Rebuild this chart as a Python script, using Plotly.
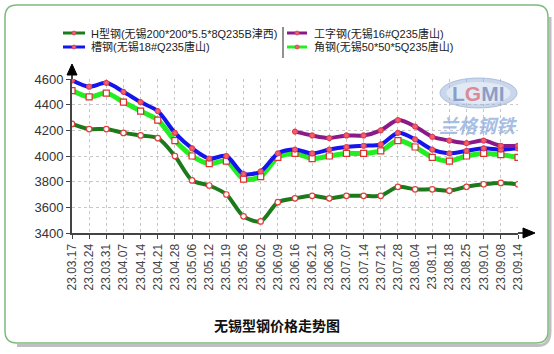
import plotly.graph_objects as go

dates = ["23.03.17","23.03.24","23.03.31","23.04.07","23.04.14","23.04.21","23.04.28",
         "23.05.06","23.05.12","23.05.19","23.05.26","23.06.02","23.06.09","23.06.16",
         "23.06.21","23.06.30","23.07.07","23.07.14","23.07.21","23.07.28","23.08.04",
         "23.08.11","23.08.18","23.08.25","23.09.01","23.09.08","23.09.14"]

h_steel = [4250,4210,4210,4180,4160,4140,4000,3810,3770,3700,3530,3490,3640,3670,
           3690,3670,3690,3690,3690,3760,3740,3740,3730,3760,3780,3790,3780]
channel = [4590,4540,4570,4500,4420,4350,4180,4060,3980,4000,3860,3880,4020,4050,
           4020,4050,4070,4080,4090,4180,4130,4050,4020,4040,4060,4050,4060]
angle = [4510,4460,4490,4420,4350,4280,4120,4000,3940,3960,3820,3840,3990,4020,
         3980,4000,4020,4020,4040,4120,4070,3990,3960,4000,4020,4010,3990]
ibeam = [None]*13 + [4190,4160,4140,4160,4160,4200,4280,4230,4150,4120,4100,4120,4080,4080]

names = ["H型钢(无锡200*200*5.5*8Q235B津西)", "工字钢(无锡16#Q235唐山)",
         "槽钢(无锡18#Q235唐山)", "角钢(无锡50*50*5Q235唐山)"]
title = "无锡型钢价格走势图"
yticks = [3400, 3600, 3800, 4000, 4200, 4400, 4600]

FONT = "Liberation Sans, Arial, Noto Sans CJK SC, sans-serif"
W, H = 554, 354
L, R, T, B = 72, 518, 79, 233

def PX(px):
    return (px - L) / (R - L)

def PY(py):
    return (B - py) / (B - T)

def P(px, py):
    return f"{PX(px)},{PY(py)}"

def ellipse_path(cx, cy, rx, ry):
    k = 0.5523
    return (f"M {P(cx+rx,cy)} "
            f"C {P(cx+rx,cy+k*ry)} {P(cx+k*rx,cy+ry)} {P(cx,cy+ry)} "
            f"C {P(cx-k*rx,cy+ry)} {P(cx-rx,cy+k*ry)} {P(cx-rx,cy)} "
            f"C {P(cx-rx,cy-k*ry)} {P(cx-k*rx,cy-ry)} {P(cx,cy-ry)} "
            f"C {P(cx+k*rx,cy-ry)} {P(cx+rx,cy-k*ry)} {P(cx+rx,cy)} Z")

fig = go.Figure()

def add(y, color, width, msym, msize, mfill, mline):
    fig.add_trace(go.Scatter(
        x=dates, y=y, mode="lines+markers",
        line=dict(color=color, width=width, shape="spline", smoothing=0.8),
        marker=dict(symbol=msym, size=msize, color=mfill, line=dict(color=mline, width=1.2)),
        showlegend=False, connectgaps=False))

add(h_steel, "#1c7a1c", 4, "circle", 5.5, "white", "#e04040")
add(angle, "#22ee22", 5, "square", 6, "white", "#e03030")
add(channel, "#1414ee", 4, "circle", 5, "#f06070", "#e04050")
add(ibeam, "#8a1a8a", 4, "circle", 5, "#f06070", "#e04050")

shapes = []
annotations = []

# outer rounded frame
x0, y0, x1, y1, r = 5, 5, 548, 343, 12
frame = (f"M {P(x0+r,y0)} L {P(x1-r,y0)} Q {P(x1,y0)} {P(x1,y0+r)} "
         f"L {P(x1,y1-r)} Q {P(x1,y1)} {P(x1-r,y1)} L {P(x0+r,y1)} "
         f"Q {P(x0,y1)} {P(x0,y1-r)} L {P(x0,y0+r)} Q {P(x0,y0)} {P(x0+r,y0)} Z")
shadow = (f"M {P(x0+r,y1+2.5)} L {P(x1-r+2,y1+2.5)} Q {P(x1+2,y1+2.5)} {P(x1+2,y1-r)} "
          f"L {P(x1+2,y0+r)}")
shapes.append(dict(type="path", xref="paper", yref="paper", path=shadow,
                   line=dict(color="rgba(150,150,150,0.6)", width=3), layer="below"))
shapes.append(dict(type="path", xref="paper", yref="paper", path=frame,
                   line=dict(color="#7dbb7d", width=1.5), fillcolor="white", layer="below"))

# watermark logo
shapes.append(dict(type="path", xref="paper", yref="paper",
                   path=ellipse_path(478.5, 93, 38.5, 15),
                   fillcolor="rgba(150,175,215,0.5)", line=dict(color="rgba(140,165,210,0.6)", width=1)))
shapes.append(dict(type="path", xref="paper", yref="paper",
                   path=ellipse_path(478.5, 93, 32, 11),
                   fillcolor="rgba(228,235,247,0.9)", line=dict(width=0)))

# axis extensions with arrows
shapes.append(dict(type="line", xref="paper", yref="paper", x0=0, x1=0, y0=1, y1=PY(72),
                   line=dict(color="#444", width=2)))
shapes.append(dict(type="path", xref="paper", yref="paper",
                   path=f"M {P(72,64)} L {P(67,75)} L {P(77,75)} Z",
                   fillcolor="black", line=dict(color="black", width=1)))
shapes.append(dict(type="line", xref="paper", yref="paper", x0=1, x1=PX(524), y0=0, y1=0,
                   line=dict(color="#444", width=2)))
shapes.append(dict(type="path", xref="paper", yref="paper",
                   path=f"M {P(535,233)} L {P(523,228)} L {P(523,238)} Z",
                   fillcolor="black", line=dict(color="black", width=1)))

# legend
leg = [(names[0], "#1c7a1c", 63, 85, 89, 33),
       (names[2], "#1414ee", 63, 85, 89, 47),
       (names[1], "#8a1a8a", 287, 307, 312, 33),
       (names[3], "#22ee22", 287, 307, 312, 47)]
for txt, col, lx0, lx1, tx, ty in leg:
    shapes.append(dict(type="line", xref="paper", yref="paper", x0=PX(lx0), x1=PX(lx1),
                       y0=PY(ty), y1=PY(ty), line=dict(color=col, width=3)))
    mx = (lx0 + lx1) / 2
    shapes.append(dict(type="circle", xref="paper", yref="paper", x0=PX(mx-2), x1=PX(mx+2),
                       y0=PY(ty+2), y1=PY(ty-2), fillcolor="#f06070", line=dict(color="#e04050", width=0.8)))
    annotations.append(dict(xref="paper", yref="paper", x=PX(tx), y=PY(ty), xanchor="left",
                            yanchor="middle", showarrow=False, text=txt,
                            font=dict(family=FONT, size=11, color="#222")))
shapes.append(dict(type="line", xref="paper", yref="paper", x0=PX(283), x1=PX(283),
                   y0=PY(27), y1=PY(58), line=dict(color="#222", width=1)))

annotations.append(dict(xref="paper", yref="paper", x=PX(478), y=PY(93), showarrow=False,
                        xanchor="center", yanchor="middle",
                        text="<b>L<span style='color:rgba(215,90,100,0.8)'>G</span>MI</b>",
                        font=dict(family=FONT, size=21, color="rgba(125,145,190,0.85)")))
annotations.append(dict(xref="paper", yref="paper", x=PX(478), y=PY(124), showarrow=False,
                        xanchor="center", yanchor="middle",
                        text="<i><b>兰格钢铁</b></i>",
                        font=dict(family="Noto Sans CJK SC", size=19, color="rgba(140,170,220,0.75)")))

annotations.append(dict(xref="paper", yref="paper", x=PX(277), y=PY(325), showarrow=False,
                        xanchor="center", yanchor="middle",
                        text="<b>" + title + "</b>",
                        font=dict(family="Noto Sans CJK SC", size=14, color="#111")))

fig.update_layout(
    width=W, height=H, margin=dict(l=L, r=W - R, t=T, b=H - B),
    paper_bgcolor="white", plot_bgcolor="rgba(0,0,0,0)",
    shapes=shapes, annotations=annotations, showlegend=False,
    xaxis=dict(type="category", range=[0, len(dates) - 1], tickangle=-90,
               showgrid=True, gridcolor="#c8c8c8", griddash="dot", gridwidth=1,
               showline=True, linecolor="#444", linewidth=2,
               ticks="outside", ticklen=4, tickcolor="#444",
               tickfont=dict(family=FONT, size=12, color="#444"), zeroline=False),
    yaxis=dict(range=[3400, 4600], tickvals=yticks,
               showgrid=True, gridcolor="#c8c8c8", griddash="dot", gridwidth=1,
               showline=True, linecolor="#444", linewidth=2,
               ticks="outside", ticklen=4, tickcolor="#444",
               tickfont=dict(family=FONT, size=13, color="#333"), zeroline=False),
)

fig.write_html("out.html")
